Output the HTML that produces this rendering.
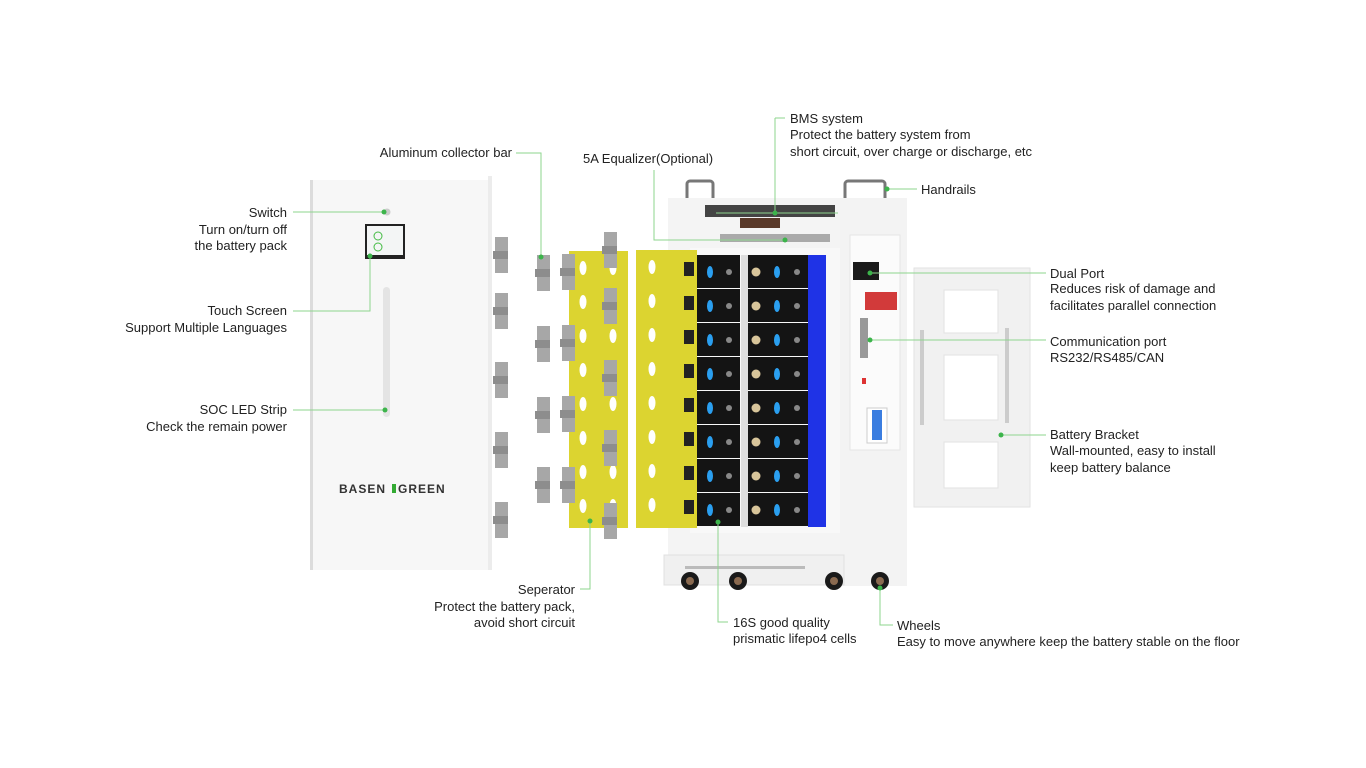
<!DOCTYPE html>
<html><head><meta charset="utf-8"><style>
html,body{margin:0;padding:0;background:#fff;width:1366px;height:768px;overflow:hidden}
svg text{font-family:"Liberation Sans",sans-serif;font-size:13px;fill:#222}
</style></head><body>
<svg width="1366" height="768" viewBox="0 0 1366 768" xmlns="http://www.w3.org/2000/svg">
<defs>
<pattern id="cellL" x="697" y="255" width="44" height="34" patternUnits="userSpaceOnUse">
<rect x="0" y="0" width="43" height="33" fill="#141414"/>
<ellipse cx="13" cy="17" rx="3" ry="6" fill="#2a9ff0"/>
<circle cx="32" cy="17" r="3" fill="#888"/>
</pattern>
<pattern id="cellR" x="748" y="255" width="60" height="34" patternUnits="userSpaceOnUse">
<rect x="0" y="0" width="60" height="33" fill="#141414"/>
<circle cx="8" cy="17" r="4.5" fill="#d8c59a"/>
<ellipse cx="29" cy="17" rx="3" ry="6" fill="#2a9ff0"/>
<circle cx="49" cy="17" r="3" fill="#888"/>
</pattern>
<pattern id="holes" x="569" y="251" width="30" height="34" patternUnits="userSpaceOnUse">
<ellipse cx="14" cy="17" rx="3.5" ry="7" fill="#fff"/>
</pattern>
<pattern id="holes2" x="636" y="250" width="40" height="34" patternUnits="userSpaceOnUse">
<ellipse cx="16" cy="17" rx="3.5" ry="7" fill="#fff"/>
</pattern>
<g id="bar"><rect x="0" y="0" width="13" height="14" fill="#a7a7a7"/><rect x="-2" y="14" width="15" height="8" fill="#8d8d8d"/><rect x="0" y="22" width="13" height="14" fill="#a7a7a7"/></g>
<g id="wheel"><circle r="9" fill="#1a1a1a"/><circle r="4" fill="#8a6a50"/></g>
</defs>

<rect x="310" y="180" width="182" height="390" fill="#f7f7f7"/>
<rect x="310" y="180" width="3" height="390" fill="#dcdcdc"/>
<rect x="488" y="176" width="4" height="394" fill="#ececec"/>
<circle cx="387" cy="212" r="3.5" fill="#ccc"/>
<rect x="365" y="224" width="40" height="35" fill="#222"/>
<rect x="367" y="226" width="36" height="29" fill="#f3f5f5"/>
<circle cx="378" cy="236" r="4" fill="none" stroke="#4b4" stroke-width="1"/>
<circle cx="378" cy="247" r="4" fill="none" stroke="#4b4" stroke-width="1"/>
<rect x="383" y="287" width="7" height="130" rx="3.5" fill="#e4e4e4"/>
<text x="339" y="493" style="font-size:12px;font-weight:bold;letter-spacing:1px;fill:#333">BASEN</text>
<text x="398" y="493" style="font-size:12px;font-weight:bold;letter-spacing:1px;fill:#333">GREEN</text>
<rect x="392" y="484" width="4" height="9" fill="#3a3"/>

<use href="#bar" x="495" y="237"/><use href="#bar" x="495" y="293"/><use href="#bar" x="495" y="362"/><use href="#bar" x="495" y="432"/><use href="#bar" x="495" y="502"/>
<use href="#bar" x="537" y="255"/><use href="#bar" x="537" y="326"/><use href="#bar" x="537" y="397"/><use href="#bar" x="537" y="467"/>

<rect x="569" y="251" width="59" height="277" fill="#dcd430"/>
<rect x="569" y="251" width="59" height="277" fill="url(#holes)"/>
<use href="#bar" x="562" y="254"/><use href="#bar" x="562" y="325"/><use href="#bar" x="562" y="396"/><use href="#bar" x="562" y="467"/>
<use href="#bar" x="604" y="232"/><use href="#bar" x="604" y="288"/><use href="#bar" x="604" y="360"/><use href="#bar" x="604" y="430"/><use href="#bar" x="604" y="503"/>

<rect x="687" y="181" width="26" height="22" rx="3" fill="none" stroke="#777" stroke-width="3"/>
<rect x="845" y="181" width="40" height="20" rx="3" fill="none" stroke="#777" stroke-width="3"/>
<rect x="668" y="198" width="176" height="360" fill="#f4f4f4"/>
<rect x="705" y="205" width="130" height="12" fill="#444"/>
<rect x="740" y="218" width="40" height="10" fill="#5a3a2a"/>
<rect x="720" y="234" width="110" height="8" fill="#aaa"/>
<rect x="690" y="248" width="150" height="285" fill="#f8f8f8"/>
<rect x="697" y="255" width="44" height="272" fill="url(#cellL)"/>
<rect x="741" y="255" width="7" height="272" fill="#ddd"/>
<rect x="748" y="255" width="60" height="272" fill="url(#cellR)"/>
<rect x="808" y="255" width="18" height="272" fill="#1f33e6"/>
<rect x="840" y="198" width="67" height="388" fill="#f3f3f3"/>
<rect x="850" y="235" width="50" height="215" fill="#fbfbfb" stroke="#e6e6e6"/>
<rect x="853" y="262" width="26" height="18" fill="#1a1a1a"/>
<rect x="865" y="292" width="32" height="18" fill="#d23a3a"/>
<rect x="860" y="318" width="8" height="40" fill="#999"/>
<rect x="862" y="378" width="4" height="6" fill="#d33"/>
<rect x="867" y="408" width="20" height="35" fill="#fff" stroke="#ccc"/>
<rect x="872" y="410" width="10" height="30" fill="#3a7de0"/>
<rect x="664" y="555" width="180" height="30" fill="#f0f0f0" stroke="#e0e0e0"/>
<rect x="685" y="566" width="120" height="3" fill="#bbb"/>
<use href="#wheel" x="690" y="581"/><use href="#wheel" x="738" y="581"/><use href="#wheel" x="834" y="581"/><use href="#wheel" x="880" y="581"/>

<rect x="636" y="250" width="61" height="278" fill="#dcd430"/>
<rect x="636" y="250" width="48" height="278" fill="url(#holes2)"/>
<g fill="#222"><rect x="684" y="262" width="10" height="14"/><rect x="684" y="296" width="10" height="14"/><rect x="684" y="330" width="10" height="14"/><rect x="684" y="364" width="10" height="14"/><rect x="684" y="398" width="10" height="14"/><rect x="684" y="432" width="10" height="14"/><rect x="684" y="466" width="10" height="14"/><rect x="684" y="500" width="10" height="14"/></g>

<path d="M914 268 H1030 V507 H914 Z M944 290 V333 H998 V290 Z M944 355 V420 H998 V355 Z M944 442 V488 H998 V442 Z" fill="#f1f1f1" fill-rule="evenodd" stroke="#e2e2e2"/>
<rect x="920" y="330" width="4" height="95" fill="#ccc"/><rect x="1005" y="328" width="4" height="95" fill="#ccc"/>

<g stroke="#8ed58e" stroke-width="1" fill="none">
<path d="M293 212 H384"/>
<path d="M293 311 H370 V256"/>
<path d="M293 410 H385"/>
<path d="M516 153 H541 V257"/>
<path d="M654 170 V240 H785"/>
<path d="M775 118 H785 M775 118 V213 M716 213 H838"/>
<path d="M887 189 H917"/>
<path d="M870 273 H1046"/>
<path d="M870 340 H1046"/>
<path d="M1001 435 H1046"/>
<path d="M590 521 V589 H580"/>
<path d="M718 522 V622 H728"/>
<path d="M880 588 V625 H893"/>
</g>
<g fill="#3cb44b">
<circle cx="384" cy="212" r="2.5"/><circle cx="370" cy="256" r="2.5"/><circle cx="385" cy="410" r="2.5"/>
<circle cx="541" cy="257" r="2.5"/><circle cx="785" cy="240" r="2.5"/><circle cx="775" cy="213" r="2.5"/>
<circle cx="887" cy="189" r="2.5"/><circle cx="870" cy="273" r="2.5"/><circle cx="870" cy="340" r="2.5"/>
<circle cx="1001" cy="435" r="2.5"/><circle cx="590" cy="521" r="2.5"/><circle cx="718" cy="522" r="2.5"/><circle cx="880" cy="588" r="2.5"/>
</g>

<g text-anchor="end">
<text x="287" y="217">Switch</text><text x="287" y="234">Turn on/turn off</text><text x="287" y="250">the battery pack</text>
<text x="287" y="315">Touch Screen</text><text x="287" y="332">Support Multiple Languages</text>
<text x="287" y="414">SOC LED Strip</text><text x="287" y="431">Check the remain power</text>
<text x="512" y="157">Aluminum collector bar</text>
<text x="575" y="594">Seperator</text><text x="575" y="611">Protect the battery pack,</text><text x="575" y="627">avoid short circuit</text>
</g>
<text x="583" y="163">5A Equalizer(Optional)</text>
<text x="790" y="123">BMS system</text><text x="790" y="139">Protect the battery system from</text><text x="790" y="156">short circuit, over charge or discharge, etc</text>
<text x="921" y="194">Handrails</text>
<text x="1050" y="278">Dual Port</text><text x="1050" y="293">Reduces risk of damage and</text><text x="1050" y="310">facilitates parallel connection</text>
<text x="1050" y="346">Communication port</text><text x="1050" y="362">RS232/RS485/CAN</text>
<text x="1050" y="439">Battery Bracket</text><text x="1050" y="455">Wall-mounted, easy to install</text><text x="1050" y="472">keep battery balance</text>
<text x="733" y="627">16S good quality</text><text x="733" y="643">prismatic lifepo4 cells</text>
<text x="897" y="630">Wheels</text><text x="897" y="646">Easy to move anywhere keep the battery stable on the floor</text>
</svg>
</body></html>
